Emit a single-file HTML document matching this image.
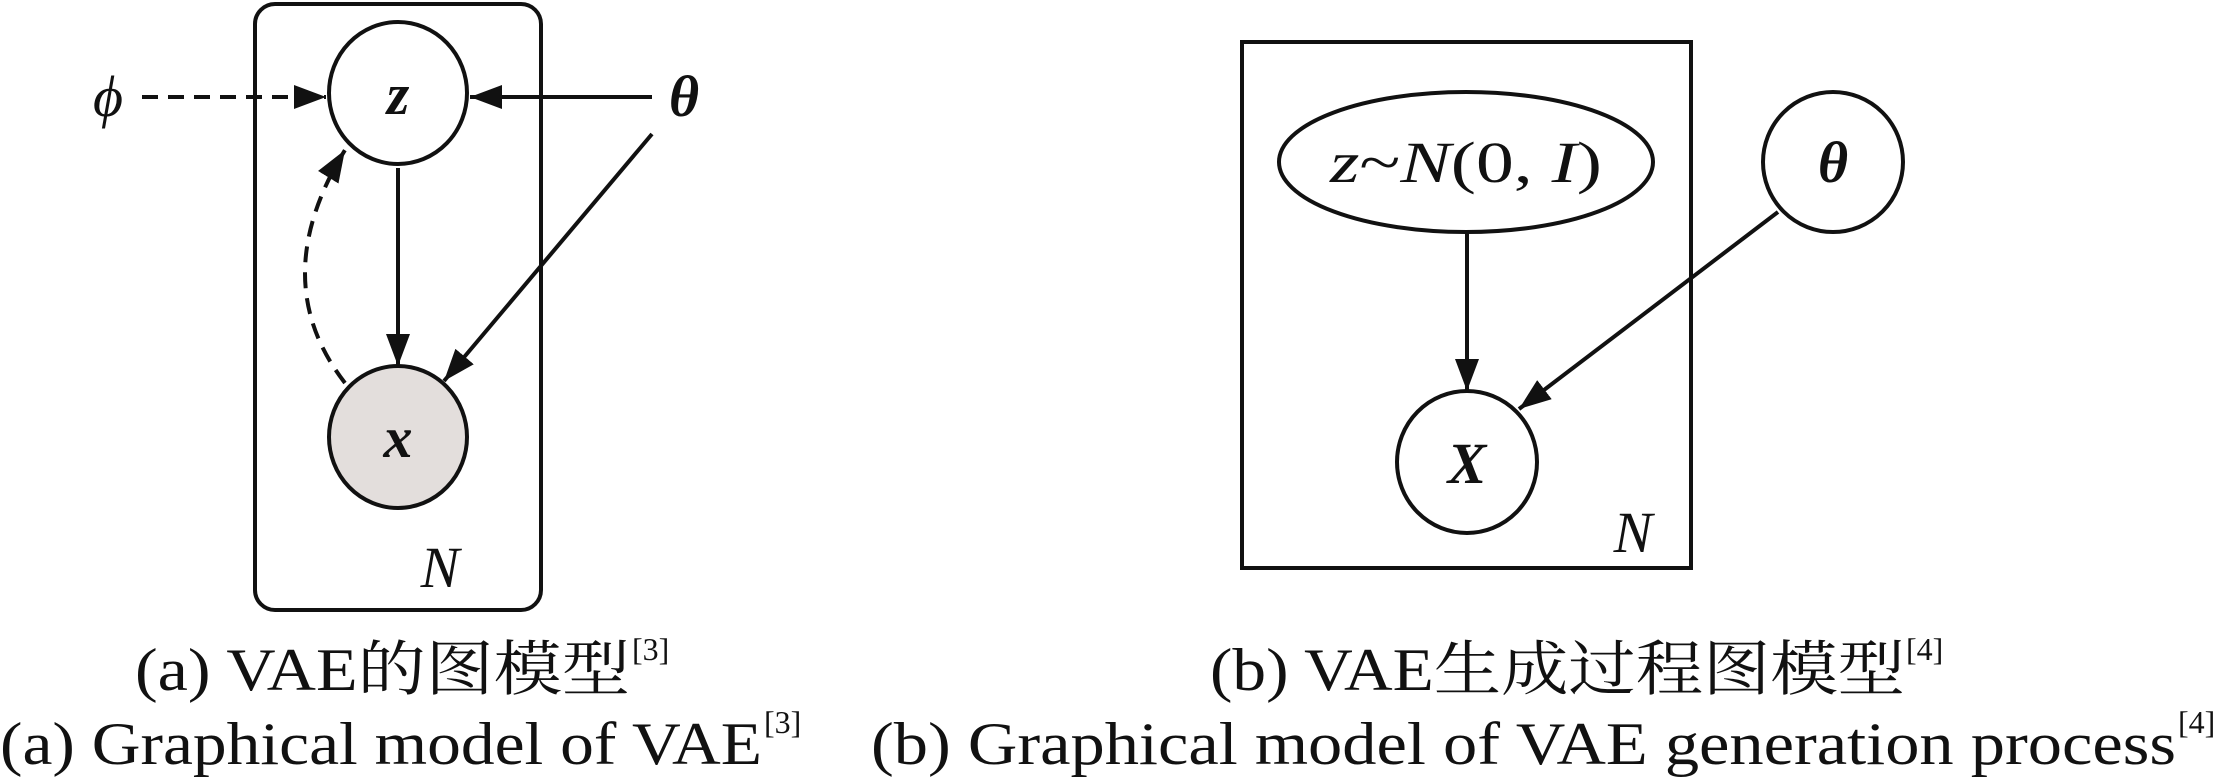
<!DOCTYPE html>
<html><head><meta charset="utf-8"><style>html,body{margin:0;padding:0;background:#fff}svg{display:block}text{font-family:"Liberation Serif","Noto Serif CJK SC",serif}</style></head>
<body>
<svg width="2228" height="781" viewBox="0 0 2228 781" xmlns="http://www.w3.org/2000/svg">
<defs>
<marker id="ahb" markerWidth="32" markerHeight="24" refX="32" refY="12" orient="auto" markerUnits="userSpaceOnUse" viewBox="0 0 32 24"><path d="M0,0 L32,12 L0,24 z" fill="#111"/></marker>
</defs>
<g stroke="#111" stroke-width="4" fill="none">
<rect x="255" y="4" width="286" height="606" rx="20"/>
<ellipse cx="398" cy="93" rx="69" ry="71" fill="#fff"/>
<ellipse cx="398" cy="437" rx="69" ry="71" fill="#e3dedc"/>
<line x1="142" y1="97" x2="326" y2="97" stroke-dasharray="16,10" marker-end="url(#ahb)"/>
<line x1="652" y1="97" x2="470" y2="97" marker-end="url(#ahb)"/>
<line x1="652" y1="134" x2="444" y2="381" marker-end="url(#ahb)"/>
<line x1="398" y1="168" x2="398" y2="366" marker-end="url(#ahb)"/>
<path d="M345,383 Q265,280 345,150" stroke-dasharray="16,10" marker-end="url(#ahb)"/>
<rect x="1242" y="42" width="449" height="526"/>
<ellipse cx="1466" cy="162" rx="187" ry="70" fill="#fff"/>
<ellipse cx="1833" cy="162" rx="70" ry="70" fill="#fff"/>
<ellipse cx="1467" cy="462" rx="70" ry="71" fill="#fff"/>
<line x1="1467" y1="232" x2="1467" y2="391" marker-end="url(#ahb)"/>
<line x1="1778" y1="212" x2="1519" y2="409" marker-end="url(#ahb)"/>
</g>
<g fill="#111" font-size="58">
<text x="398" y="114" text-anchor="middle" font-style="italic" font-weight="bold">z</text>
<text x="398" y="457" text-anchor="middle" font-style="italic" font-weight="bold">x</text>
<text x="108" y="116" text-anchor="middle" font-style="italic">ϕ</text>
<text x="684" y="116" text-anchor="middle" font-style="italic" font-weight="bold">θ</text>
<text x="440" y="587" text-anchor="middle" font-style="italic">N</text>
<text x="1466" y="182" text-anchor="middle" textLength="272" lengthAdjust="spacingAndGlyphs"><tspan font-style="italic">z</tspan>~<tspan font-style="italic">N</tspan>(0, <tspan font-style="italic">I</tspan>)</text>
<text x="1833" y="182" text-anchor="middle" font-style="italic" font-weight="bold">θ</text>
<text x="1467" y="483" text-anchor="middle" font-style="italic" font-weight="bold">X</text>
<text x="1633" y="552" text-anchor="middle" font-style="italic">N</text>
</g>
<g fill="#111" font-size="60">
<text x="135" y="690" textLength="495" lengthAdjust="spacingAndGlyphs">(a) VAE的图模型</text>
<text x="632" y="660" font-size="32">[3]</text>
<text x="0" y="764" textLength="762" lengthAdjust="spacingAndGlyphs">(a) Graphical model of VAE</text>
<text x="764" y="733" font-size="32">[3]</text>
<text x="1210" y="690" textLength="695" lengthAdjust="spacingAndGlyphs">(b) VAE生成过程图模型</text>
<text x="1906" y="660" font-size="32">[4]</text>
<text x="871" y="764" textLength="1305" lengthAdjust="spacingAndGlyphs">(b) Graphical model of VAE generation process</text>
<text x="2178" y="733" font-size="32">[4]</text>
</g>
</svg>
</body></html>
